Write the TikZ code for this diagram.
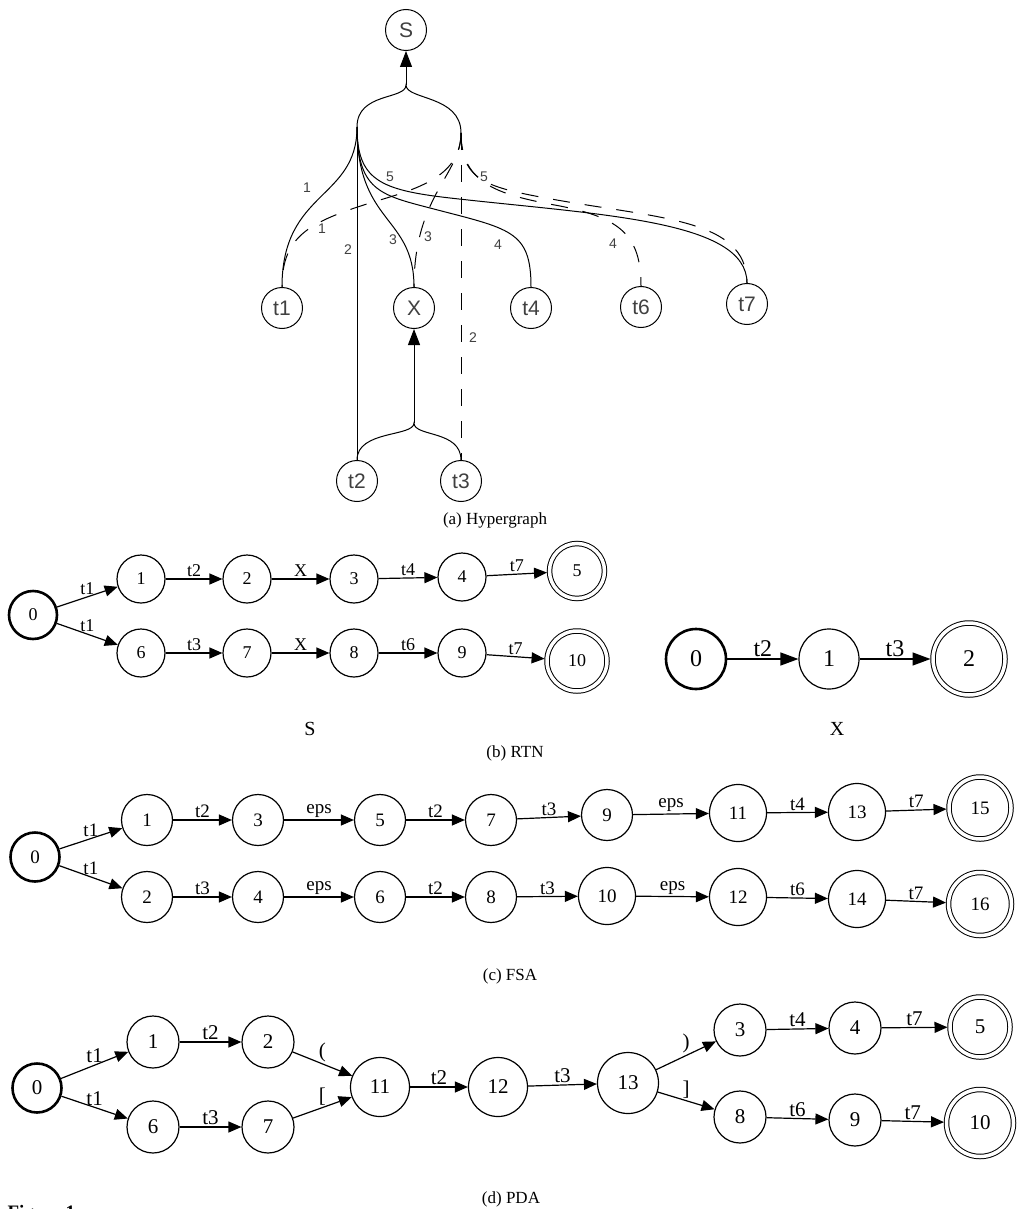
\documentclass[tikz,border=0pt]{standalone}
\usepackage{fontspec}
\newfontfamily\hgfont{Liberation Sans}
\newfontfamily\grfont{Liberation Serif}
\usetikzlibrary{arrows.meta}
\definecolor{hgray}{RGB}{64,64,64}
\tikzset{
  hnode/.style={circle, draw, line width=1pt, minimum size=41pt, inner sep=0pt, text=hgray, font=\hgfont\fontsize{21}{21}\selectfont},
  hnum/.style={text=hgray, inner sep=0pt, font=\hgfont\fontsize{14}{14}\selectfont},
  hdash/.style={dash pattern=on 17pt off 15pt},
  hhead/.style={-{Triangle[length=16pt,width=12pt]}},
  st/.style={circle, draw, line width=1.2pt, inner sep=0pt},
  stinit/.style={st, line width=2.6pt},
  stfin/.style={st, double, line width=1pt, double distance=3.5pt, outer sep=2.5pt},
  tr/.style={-{Triangle[length=13pt,width=11pt]}, line width=1.2pt},
  lab/.style={above, inner sep=1.5pt},
  capt/.style={anchor=base, font=\grfont\fontsize{17}{17}\selectfont},
  autlab/.style={anchor=base, font=\grfont\fontsize{20}{20}\selectfont},
}
\begin{document}
\begin{tikzpicture}[x=1pt,y=-1pt,line width=1pt]
\useasboundingbox (0,0) rectangle (1023,1209);

% (a) hypergraph
\node[hnode] (S) at (406,30) {S};
\node[hnode] (t1) at (282,308) {t1};
\node[hnode] (X) at (414,308) {X};
\node[hnode] (t4) at (531,308) {t4};
\node[hnode] (t6) at (641,307) {t6};
\node[hnode] (t7) at (747,304) {t7};
\node[hnode] (t2) at (357,481) {t2};
\node[hnode] (t3) at (461,481) {t3};

\coordinate (hj) at (406,85);
\coordinate (hl) at (357,127);
\coordinate (hr) at (461,133);
\draw[hhead] (hj) -- (S);
\draw (hl) .. controls (357,92) and (406,100) .. (hj) .. controls (406,100) and (461,95) .. (hr);

\draw (hl) -- (t2);
\draw (hl) .. controls (357,200) and (282,190) .. (t1.north);
\draw (hl) .. controls (357,225) and (414,215) .. (X.north);
\draw (hl) .. controls (357,190) and (380,195) .. (430,208) .. controls (510,229) and (531,230) .. (t4.north);
\draw (hl) .. controls (357,180) and (380,190) .. (450,198) .. controls (600,215) and (747,220) .. (t7.north);

\draw[hdash] (hr) -- (t3);
\draw[hdash] (hr) .. controls (461,175) and (420,188) .. (380,200) .. controls (310,221) and (282,235) .. (t1.north);
\draw[hdash] (hr) .. controls (461,175) and (414,195) .. (X.north);
\draw[hdash] (hr) .. controls (461,185) and (500,195) .. (560,206) .. controls (620,218) and (641,235) .. (t6.north);
\draw[hdash] (hr) .. controls (461,175) and (480,185) .. (530,195) .. controls (650,219) and (747,215) .. (t7.north);

\node[hnum] (n1a) at (307,188) {1};
\node[hnum] (n1b) at (322,229) {1};
\node[hnum] (n2a) at (348,250) {2};
\node[hnum] (n2b) at (473,338) {2};
\node[hnum] (n3a) at (393,240) {3};
\node[hnum] (n3b) at (428,237) {3};
\node[hnum] (n4a) at (498,245) {4};
\node[hnum] (n4b) at (613,244) {4};
\node[hnum] (n5a) at (390,177) {5};
\node[hnum] (n5b) at (484,177) {5};

\coordinate (bj) at (414,423);
\draw[hhead] (bj) -- (X);
\draw (t2.north) .. controls (357,430) and (414,437) .. (bj) .. controls (414,437) and (461,430) .. (t3.north);

\node[capt] (capa) at (495,524) {(a) Hypergraph};

% (b) RTN, S
\begin{scope}[every node/.append style={font=\grfont\fontsize{18}{18}\selectfont}]
\node[stinit, minimum size=48pt] (s0) at (33,615) {0};
\node[st, minimum size=48pt] (s1) at (141,579) {1};
\node[st, minimum size=48pt] (s2) at (247,579) {2};
\node[st, minimum size=48pt] (s3) at (354,579) {3};
\node[st, minimum size=48pt] (s4) at (462,577) {4};
\node[stfin, minimum size=55pt] (s5) at (577,571) {5};
\node[st, minimum size=48pt] (s6) at (141,653) {6};
\node[st, minimum size=48pt] (s7) at (247,653) {7};
\node[st, minimum size=48pt] (s8) at (354,653) {8};
\node[st, minimum size=48pt] (s9) at (462,653) {9};
\node[stfin, minimum size=60pt] (s10) at (577,661) {10};
\draw[tr] (s0) -- node[lab] {t1} (s1);
\draw[tr] (s1) -- node[lab] {t2} (s2);
\draw[tr] (s2) -- node[lab] {X} (s3);
\draw[tr] (s3) -- node[lab] {t4} (s4);
\draw[tr] (s4) -- node[lab] {t7} (s5);
\draw[tr] (s0) -- node[lab] {t1} (s6);
\draw[tr] (s6) -- node[lab] {t3} (s7);
\draw[tr] (s7) -- node[lab] {X} (s8);
\draw[tr] (s8) -- node[lab] {t6} (s9);
\draw[tr] (s9) -- node[lab] {t7} (s10);
\end{scope}

% (b) RTN, X
\begin{scope}[every node/.append style={font=\grfont\fontsize{24}{24}\selectfont}]
\node[stinit, minimum size=60pt] (x0) at (696,659) {0};
\node[st, minimum size=60pt] (x1) at (829,659) {1};
\node[stfin, minimum size=72pt] (x2) at (969,659) {2};
\draw[tr, -{Triangle[length=18pt,width=13pt]}, line width=1.4pt] (x0) -- node[lab] {t2} (x1);
\draw[tr, -{Triangle[length=18pt,width=13pt]}, line width=1.4pt] (x1) -- node[lab] {t3} (x2);
\end{scope}

\node[autlab] (capS) at (310,735) {S};
\node[autlab] (capX) at (837,735) {X};
\node[capt] (capb) at (515,757) {(b) RTN};

% (c) FSA
\begin{scope}[every node/.append style={font=\grfont\fontsize{19}{19}\selectfont}]
\node[stinit, minimum size=49pt] (f0) at (35,857) {0};
\node[st, minimum size=51pt] (f1) at (147,820) {1};
\node[st, minimum size=51pt] (f3) at (258,820) {3};
\node[st, minimum size=51pt] (f5) at (380,820) {5};
\node[st, minimum size=51pt] (f7) at (491,820) {7};
\node[st, minimum size=51pt] (f9) at (607,815) {9};
\node[st, minimum size=57pt] (f11) at (738,813) {11};
\node[st, minimum size=57pt] (f13) at (857,812) {13};
\node[stfin, minimum size=62pt] (f15) at (980,808) {15};
\node[st, minimum size=51pt] (f2) at (147,897) {2};
\node[st, minimum size=51pt] (f4) at (258,897) {4};
\node[st, minimum size=51pt] (f6) at (380,897) {6};
\node[st, minimum size=51pt] (f8) at (491,897) {8};
\node[st, minimum size=57pt] (f10) at (607,896) {10};
\node[st, minimum size=57pt] (f12) at (738,897) {12};
\node[st, minimum size=57pt] (f14) at (857,899) {14};
\node[stfin, minimum size=63pt] (f16) at (980,904) {16};
\draw[tr] (f0) -- node[lab] {t1} (f1);
\draw[tr] (f1) -- node[lab] {t2} (f3);
\draw[tr] (f3) -- node[lab] {eps} (f5);
\draw[tr] (f5) -- node[lab] {t2} (f7);
\draw[tr] (f7) -- node[lab] {t3} (f9);
\draw[tr] (f9) -- node[lab] {eps} (f11);
\draw[tr] (f11) -- node[lab] {t4} (f13);
\draw[tr] (f13) -- node[lab] {t7} (f15);
\draw[tr] (f0) -- node[lab] {t1} (f2);
\draw[tr] (f2) -- node[lab] {t3} (f4);
\draw[tr] (f4) -- node[lab] {eps} (f6);
\draw[tr] (f6) -- node[lab] {t2} (f8);
\draw[tr] (f8) -- node[lab] {t3} (f10);
\draw[tr] (f10) -- node[lab] {eps} (f12);
\draw[tr] (f12) -- node[lab] {t6} (f14);
\draw[tr] (f14) -- node[lab] {t7} (f16);
\end{scope}

\node[capt] (capc) at (510,980) {(c) FSA};

% (d) PDA
\begin{scope}[every node/.append style={font=\grfont\fontsize{21}{21}\selectfont}]
\node[stinit, minimum size=49pt] (p0) at (37,1088) {0};
\node[st, minimum size=52pt] (p1) at (153,1042) {1};
\node[st, minimum size=52pt] (p2) at (268,1042) {2};
\node[st, minimum size=52pt] (p6) at (153,1127) {6};
\node[st, minimum size=52pt] (p7) at (268,1127) {7};
\node[st, minimum size=59pt] (p11) at (380,1087) {11};
\node[st, minimum size=59pt] (p12) at (498,1087) {12};
\node[st, minimum size=61pt] (p13) at (628,1083) {13};
\node[st, minimum size=52pt] (p3) at (740,1030) {3};
\node[st, minimum size=52pt] (p4) at (855,1028) {4};
\node[stfin, minimum size=60pt] (p5) at (980,1027) {5};
\node[st, minimum size=52pt] (p8) at (740,1117) {8};
\node[st, minimum size=52pt] (p9) at (855,1120) {9};
\node[stfin, minimum size=67pt] (p10) at (980,1123) {10};
\draw[tr] (p0) -- node[lab] {t1} (p1);
\draw[tr] (p1) -- node[lab] {t2} (p2);
\draw[tr] (p2) -- node[lab] {(} (p11);
\draw[tr] (p0) -- node[lab] {t1} (p6);
\draw[tr] (p6) -- node[lab] {t3} (p7);
\draw[tr] (p7) -- node[lab] {[} (p11);
\draw[tr] (p11) -- node[lab] {t2} (p12);
\draw[tr] (p12) -- node[lab] {t3} (p13);
\draw[tr] (p13) -- node[lab] {)} (p3);
\draw[tr] (p3) -- node[lab] {t4} (p4);
\draw[tr] (p4) -- node[lab] {t7} (p5);
\draw[tr] (p13) -- node[lab] {]} (p8);
\draw[tr] (p8) -- node[lab] {t6} (p9);
\draw[tr] (p9) -- node[lab] {t7} (p10);
\end{scope}

\node[capt] (capd) at (511,1203) {(d) PDA};
\node[anchor=base west, inner sep=0pt, font=\grfont\bfseries\fontsize{19}{19}\selectfont] (fig) at (7,1218) {Figure 1};
\end{tikzpicture}
\end{document}
